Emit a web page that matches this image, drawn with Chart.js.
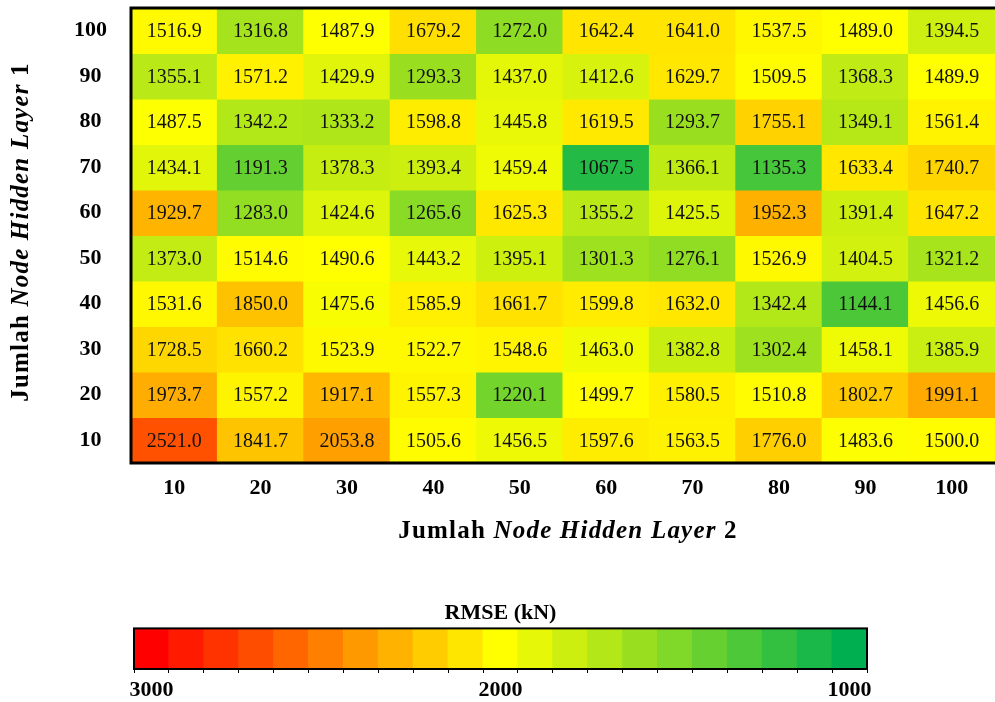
<!DOCTYPE html>
<html>
<head>
<meta charset="utf-8">
<script src="https://cdn.jsdelivr.net/npm/chart.js@4.4.0/dist/chart.umd.min.js"></script>
<style>
  html, body { margin: 0; padding: 0; background: #fff; }
  #wrap { position: relative; width: 995px; height: 702px; }
  #heat-box { position: absolute; left: 0; top: 0; width: 995px; height: 590px; }
  #scale-box { position: absolute; left: 0; top: 590px; width: 995px; height: 112px; }
</style>
</head>
<body>
<div id="wrap">
  <div id="heat-box"><canvas id="heatChart"></canvas></div>
  <div id="scale-box"><canvas id="scaleChart"></canvas></div>
</div>
<script>
// Jumlah node hidden layer 2 (columns) and hidden layer 1 (rows, top to bottom)
const layer2Nodes = ['10', '20', '30', '40', '50', '60', '70', '80', '90', '100'];
const layer1Nodes = [100, 90, 80, 70, 60, 50, 40, 30, 20, 10];

// RMSE (kN), one array per hidden layer 1 size
const rmseL1_100 = [1516.9, 1316.8, 1487.9, 1679.2, 1272.0, 1642.4, 1641.0, 1537.5, 1489.0, 1394.5];
const rmseL1_90  = [1355.1, 1571.2, 1429.9, 1293.3, 1437.0, 1412.6, 1629.7, 1509.5, 1368.3, 1489.9];
const rmseL1_80  = [1487.5, 1342.2, 1333.2, 1598.8, 1445.8, 1619.5, 1293.7, 1755.1, 1349.1, 1561.4];
const rmseL1_70  = [1434.1, 1191.3, 1378.3, 1393.4, 1459.4, 1067.5, 1366.1, 1135.3, 1633.4, 1740.7];
const rmseL1_60  = [1929.7, 1283.0, 1424.6, 1265.6, 1625.3, 1355.2, 1425.5, 1952.3, 1391.4, 1647.2];
const rmseL1_50  = [1373.0, 1514.6, 1490.6, 1443.2, 1395.1, 1301.3, 1276.1, 1526.9, 1404.5, 1321.2];
const rmseL1_40  = [1531.6, 1850.0, 1475.6, 1585.9, 1661.7, 1599.8, 1632.0, 1342.4, 1144.1, 1456.6];
const rmseL1_30  = [1728.5, 1660.2, 1523.9, 1522.7, 1548.6, 1463.0, 1382.8, 1302.4, 1458.1, 1385.9];
const rmseL1_20  = [1973.7, 1557.2, 1917.1, 1557.3, 1220.1, 1499.7, 1580.5, 1510.8, 1802.7, 1991.1];
const rmseL1_10  = [2521.0, 1841.7, 2053.8, 1505.6, 1456.5, 1597.6, 1563.5, 1776.0, 1483.6, 1500.0];
const rmseRows = [rmseL1_100, rmseL1_90, rmseL1_80, rmseL1_70, rmseL1_60, rmseL1_50, rmseL1_40, rmseL1_30, rmseL1_20, rmseL1_10];

// colour bar
const legendStops = [3000, 2900, 2800, 2700, 2600, 2500, 2400, 2300, 2200, 2100, 2000,
                     1900, 1800, 1700, 1600, 1500, 1400, 1300, 1200, 1100, 1000];
const legendTicks = [3000, 2000, 1000];

const FONT = '"Liberation Serif", "Times New Roman", serif';
Chart.defaults.font.family = FONT;
Chart.defaults.color = '#000';

const GREEN = [0, 176, 80], YELLOW = [255, 255, 0], RED = [255, 0, 0];

function mix(a, b, t) {
    return a.map((v, i) => Math.round(v + (b[i] - v) * t));
}

function scaleColor(v, lo, mid, hi) {
    let c;
    if (v <= mid) c = mix(GREEN, YELLOW, Math.max(0, (v - lo) / (mid - lo)));
    else c = mix(YELLOW, RED, Math.min(1, (v - mid) / (hi - mid)));
    return `rgb(${c.join(',')})`;
}

// mid point of the cell colours = median of all values (like excel's 50th percentile)
const sorted = rmseRows.flat().sort((a, b) => a - b);
const rmseMedian = (sorted[49] + sorted[50]) / 2;

function drawRich(ctx, parts, cx, cy, angle) {
    ctx.save();
    ctx.translate(cx, cy);
    ctx.rotate(angle || 0);
    ctx.textBaseline = 'middle';
    ctx.textAlign = 'left';
    ctx.fillStyle = '#000';
    ctx.letterSpacing = '1.2px';
    let total = 0;
    parts.forEach(p => { ctx.font = p.font; total += ctx.measureText(p.text).width; });
    let x = -total / 2;
    parts.forEach(p => {
        ctx.font = p.font;
        ctx.fillText(p.text, x, 0);
        x += ctx.measureText(p.text).width;
    });
    ctx.restore();
}

function titleParts(num) {
    return [
        { text: 'Jumlah ', font: `bold 25px ${FONT}` },
        { text: 'Node Hidden Layer', font: `italic bold 25px ${FONT}` },
        { text: ' ' + num, font: `bold 25px ${FONT}` }
    ];
}

const heatExtras = {
    id: 'heatExtras',
    afterDatasetsDraw(chart) {
        const { ctx, chartArea: a } = chart;
        ctx.save();
        ctx.font = `20px ${FONT}`;
        ctx.fillStyle = '#111';
        ctx.textAlign = 'center';
        ctx.textBaseline = 'middle';
        chart.data.datasets.forEach((ds, i) => {
            chart.getDatasetMeta(i).data.forEach((bar, j) => {
                const p = bar.getProps(['x', 'y', 'base'], true);
                ctx.fillText(ds.data[j].v.toFixed(1), p.x, (p.y + p.base) / 2 + 1);
            });
        });
        // frame: left, top, bottom (right edge runs off the picture)
        ctx.strokeStyle = '#000';
        ctx.lineWidth = 3;
        ctx.beginPath();
        ctx.moveTo(a.right + 2, a.top);
        ctx.lineTo(a.left, a.top);
        ctx.lineTo(a.left, a.bottom);
        ctx.lineTo(a.right + 2, a.bottom);
        ctx.stroke();
        ctx.restore();

        drawRich(ctx, titleParts('2'), 568, 532, 0);
        drawRich(ctx, titleParts('1'), 22, 232, -Math.PI / 2);
    }
};

const heatDatasets = layer1Nodes.map((h, r) => ({
    label: String(h),
    data: rmseRows[r].map((v, c) => ({ x: layer2Nodes[c], y: [h - 5, h + 5], v: v })),
    backgroundColor: ctx => ctx.raw ? scaleColor(ctx.raw.v, 1000, rmseMedian, 3000) : '#fff',
    borderWidth: 0,
    inflateAmount: 0.5,
    grouped: false,
    barPercentage: 1,
    categoryPercentage: 1
}));

new Chart(document.getElementById('heatChart'), {
    type: 'bar',
    data: { labels: layer2Nodes, datasets: heatDatasets },
    options: {
        responsive: true,
        maintainAspectRatio: false,
        animation: false,
        layout: { padding: { top: 8, left: 0, right: 0, bottom: 0 } },
        plugins: { legend: { display: false }, tooltip: { enabled: false } },
        scales: {
            x: {
                type: 'category',
                offset: true,
                grid: { display: false, drawTicks: false },
                border: { display: false },
                ticks: { font: { size: 22, weight: 'bold' }, color: '#000', padding: 12, maxRotation: 0 },
                afterFit: s => { s.height = 127; s.paddingLeft = 0; s.paddingRight = 0; }
            },
            y: {
                type: 'linear',
                min: 5,
                max: 105,
                grid: { display: false, drawTicks: false },
                border: { display: false },
                ticks: { font: { size: 22, weight: 'bold' }, color: '#000', padding: 24, crossAlign: 'center' },
                afterBuildTicks: s => { s.ticks = [...layer1Nodes].reverse().map(v => ({ value: v })); },
                afterFit: s => { s.width = 131; s.paddingTop = 0; s.paddingBottom = 0; }
            }
        }
    },
    plugins: [heatExtras]
});

const scaleFrame = {
    id: 'scaleFrame',
    afterDatasetsDraw(chart) {
        const { ctx, chartArea: a } = chart;
        ctx.save();
        ctx.strokeStyle = '#000';
        ctx.lineWidth = 2;
        ctx.strokeRect(a.left, a.top, a.right - a.left, a.bottom - a.top);
        ctx.restore();
    }
};

const boundaries = [legendStops[0] + 50].concat(legendStops.map(s => s - 50));

new Chart(document.getElementById('scaleChart'), {
    type: 'bar',
    data: {
        labels: ['RMSE'],
        datasets: [{
            data: legendStops.map(s => ({ y: 'RMSE', x: [s - 50, s + 50] })),
            backgroundColor: ctx => ctx.raw ? scaleColor(legendStops[ctx.dataIndex], 1000, 2000, 3000) : '#fff',
            borderWidth: 0,
            inflateAmount: 0.5,
            barPercentage: 1,
            categoryPercentage: 1
        }]
    },
    options: {
        indexAxis: 'y',
        responsive: true,
        maintainAspectRatio: false,
        animation: false,
        layout: { padding: { left: 134, right: 128, top: 0, bottom: 0 } },
        plugins: {
            legend: { display: false },
            tooltip: { enabled: false },
            title: {
                display: true,
                text: 'RMSE (kN)',
                color: '#000',
                font: { size: 22, weight: 'bold' },
                padding: { top: 10, bottom: 2 }
            }
        },
        scales: {
            x: {
                type: 'linear',
                reverse: true,
                min: 950,
                max: 3050,
                weight: 1,
                grid: { display: false, drawTicks: false },
                border: { display: false },
                ticks: { font: { size: 22, weight: 'bold' }, color: '#000', padding: 8, callback: v => String(v) },
                afterBuildTicks: s => { s.ticks = legendTicks.map(v => ({ value: v })); },
                afterFit: s => { s.height = 33; }
            },
            xb: {
                type: 'linear',
                axis: 'x',
                position: 'bottom',
                reverse: true,
                min: 950,
                max: 3050,
                weight: 0,
                grid: { display: true, drawOnChartArea: false, drawTicks: true, tickLength: 4, color: '#000', lineWidth: 1 },
                border: { display: false },
                ticks: { display: false, autoSkip: false },
                afterBuildTicks: s => { s.ticks = boundaries.map(v => ({ value: v })); },
                afterFit: s => { s.height = 0; }
            },
            y: { display: false }
        }
    },
    plugins: [scaleFrame]
});
</script>
</body>
</html>
